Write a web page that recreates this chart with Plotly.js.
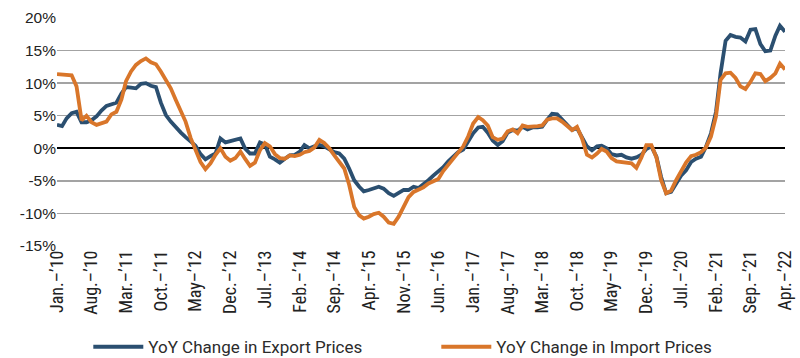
<!DOCTYPE html>
<html>
<head>
<meta charset="utf-8">
<script src="https://cdn.plot.ly/plotly-3.0.1.min.js"></script>
<style>html,body{margin:0;padding:0;background:#fff;}#chart{width:800px;height:358px;}</style>
</head>
<body>
<div id="chart"></div>
<script>
// Monthly YoY changes (%), Jan 2010 – Apr 2022
const startYear = 2010, startMonth = 1, nMonths = 148;

const exportPrices = [
  3.6, 3.4, 4.6, 5.4, 5.6, 4.0, 4.0, 4.3, 4.9, 5.8, 6.5, 6.7,
  7.0, 8.4, 9.4, 9.3, 9.2, 9.9, 10.0, 9.6, 9.4, 7.0, 5.1, 4.1,
  3.2, 2.4, 1.7, 1.1, 0.4, -0.9, -1.7, -1.2, -0.8, 1.5, 0.9, 1.1,
  1.3, 1.5, 0.0, -0.8, -0.8, 0.9, 0.6, -1.3, -1.7, -2.2, -1.6, -1.1,
  -1.0, -0.5, 0.5, 0.0, 0.3, 0.5, 0.3, -0.2, -0.6, -0.8, -1.6, -3.1,
  -4.9, -5.9, -6.6, -6.4, -6.1, -5.9, -6.2, -6.9, -7.3, -6.8, -6.4, -6.4,
  -5.9, -6.1, -5.6, -4.9, -4.2, -3.5, -2.9, -2.0, -1.2, -0.6, -0.2, 1.0,
  2.3, 3.2, 3.3, 2.4, 1.2, 0.5, 1.1, 2.4, 2.8, 2.7, 3.3, 2.9,
  3.2, 3.2, 3.3, 4.4, 5.3, 5.2, 4.4, 3.5, 2.8, 3.1, 1.6, 0.3,
  -0.3, 0.3, 0.4, 0.0, -0.9, -1.1, -1.0, -1.4, -1.6, -1.4, -1.0, -0.1,
  0.3, -1.3, -4.4, -6.9, -6.7, -5.4, -4.2, -3.4, -2.1, -1.6, -1.3, 0.2,
  2.3, 5.6, 11.5, 16.5, 17.4, 17.1, 17.0, 16.4, 18.2, 18.3, 16.0, 14.9,
  15.0, 17.3, 18.8, 17.9
];

const importPrices = [
  11.4, 11.3, 11.3, 11.2, 9.5, 4.3, 5.0, 4.0, 3.6, 3.8, 4.1, 5.2,
  5.6, 7.5, 10.3, 11.8, 12.8, 13.4, 13.8, 13.2, 12.9, 11.8, 10.5, 9.2,
  7.4, 5.7, 4.1, 1.6, -0.3, -2.1, -3.2, -2.3, -1.0, 0.0, -1.3, -1.9,
  -1.5, -0.5, -1.6, -2.7, -2.2, -0.3, 0.8, 0.3, -0.9, -1.5, -1.6, -1.1,
  -1.2, -1.0, -0.6, -0.4, 0.1, 1.3, 0.8, 0.0, -1.1, -2.1, -3.1, -5.6,
  -9.0, -10.3, -10.8, -10.5, -10.1, -9.9, -10.5, -11.4, -11.6, -10.5, -9.0, -7.5,
  -6.7, -6.4, -6.0, -5.4, -5.1, -4.7, -3.5, -2.5, -1.5, -0.6, 0.3, 1.8,
  3.8, 4.8, 4.3, 3.5, 1.7, 1.3, 1.5, 2.6, 2.9, 2.3, 3.5, 3.3,
  3.3, 3.4, 3.5, 4.4, 4.6, 4.6, 4.1, 3.5, 2.8, 3.3, 1.5, -1.0,
  -1.4, -0.8, -0.1, -0.5, -1.5, -2.0, -2.1, -2.1, -2.3, -3.0, -1.4, 0.5,
  0.5, -1.4, -4.9, -6.9, -6.5, -4.9, -3.6, -2.2, -1.2, -1.0, -0.6, 0.1,
  1.8, 4.9, 10.5, 11.5, 11.6, 10.8, 9.5, 9.1, 10.2, 11.5, 11.4, 10.3,
  10.8, 11.5, 13.0, 12.1
];

const tickLabels = [
  "Jan.–’10", "Aug.–’10", "Mar.–’11", "Oct.–’11", "May–’12", "Dec.–’12",
  "Jul.–’13", "Feb.–’14", "Sep.–’14", "Apr.–’15", "Nov.–’15", "Jun.–’16",
  "Jan.–’17", "Aug.–’17", "Mar.–’18", "Oct.–’18", "May–’19", "Dec.–’19",
  "Jul.–’20", "Feb.–’21", "Sep.–’21", "Apr.–’22"
];
const tickStep = 7;
const yTicks = [-15, -10, -5, 0, 5, 10, 15, 20];

function monthStr(i) {
  const total = (startMonth - 1) + i;
  const y = startYear + Math.floor(total / 12);
  const m = (total % 12) + 1;
  return y + "-" + String(m).padStart(2, "0") + "-01";
}
const dates = [];
for (let i = 0; i < nMonths; i++) dates.push(monthStr(i));
const tickVals = tickLabels.map((_, k) => dates[k * tickStep]);

const traces = [
  { x: dates, y: exportPrices, type: "scatter", mode: "lines",
    name: "YoY Change in Export Prices",
    line: { color: "#2b4f70", width: 3.8 } },
  { x: dates, y: importPrices, type: "scatter", mode: "lines",
    name: "YoY Change in Import Prices",
    line: { color: "#d9762a", width: 3.8 } }
];

const layout = {
  width: 800, height: 358,
  margin: { l: 57, r: 15, t: 18, b: 112, autoexpand: false },
  paper_bgcolor: "#fff", plot_bgcolor: "#fff",
  showlegend: true,
  legend: {
    orientation: "h", x: 0.043, xanchor: "left", y: -0.365, yanchor: "top",
    font: { family: "Roboto, 'Liberation Sans', Arial, sans-serif", size: 17, color: "#2b2b2b" },
    entrywidth: 283, itemwidth: 50, traceorder: "normal"
  },
  xaxis: {
    type: "date", automargin: false,
    range: [dates[0], dates[nMonths - 1]],
    tickvals: tickVals, ticktext: tickLabels,
    tickangle: -90, ticks: "", showgrid: false, zeroline: false, showline: false,
    tickfont: { family: "'Liberation Sans Narrow', 'Roboto Condensed', 'Arial Narrow', sans-serif", size: 18, color: "#222" }
  },
  yaxis: {
    range: [-15, 20], tickvals: yTicks, automargin: false,
    ticktext: yTicks.map(v => v + "%"),
    showgrid: true, gridcolor: "#a3a3a3", gridwidth: 1.5,
    zeroline: true, zerolinecolor: "#000", zerolinewidth: 2,
    showline: false, ticks: "",
    tickfont: { family: "'Liberation Sans', Arial, sans-serif", size: 15.5, color: "#222" }
  }
};

Plotly.newPlot("chart", traces, layout, { staticPlot: true, displayModeBar: false });
</script>
</body>
</html>
